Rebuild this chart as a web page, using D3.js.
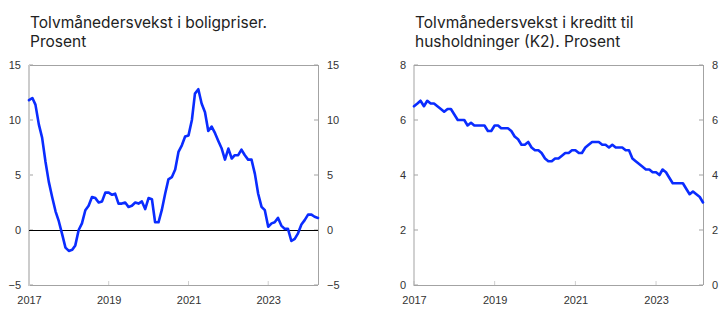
<!DOCTYPE html>
<html>
<head>
<meta charset="utf-8">
<script src="https://cdn.jsdelivr.net/npm/d3@7"></script>
<style>
  html, body { margin: 0; padding: 0; background: #fff; }
  svg { display: block; }
  .tick-label { font-family: "Liberation Sans", Arial, sans-serif; font-size: 11px; fill: #333; }
  .title { font-family: Inter, "Open Sans", sans-serif; font-size: 15.5px; fill: #222; }
</style>
</head>
<body>
<svg id="chart" width="722" height="325"></svg>
<script>
// ---------- DATA ----------
const startMonth = "2017-01";
// Twelve-month growth in house prices, monthly Jan 2017 – Apr 2024 (per cent)
const housePrices = [
  11.8, 12.0, 11.4, 9.6, 8.4, 6.2, 4.4, 3.0, 1.7, 0.8,
  -0.4, -1.6, -1.9, -1.8, -1.4, 0.0, 0.6, 1.8, 2.2, 3.0,
  2.9, 2.5, 2.6, 3.4, 3.4, 3.2, 3.3, 2.4, 2.4, 2.5,
  2.1, 2.2, 2.5, 2.4, 2.6, 1.9, 2.9, 2.8, 0.7, 0.7,
  1.8, 3.3, 4.6, 4.8, 5.5, 7.1, 7.7, 8.5, 8.6, 10.0,
  12.4, 12.8, 11.5, 10.7, 9.0, 9.4, 8.8, 8.1, 7.4, 6.4,
  7.4, 6.5, 6.8, 6.8, 7.3, 6.8, 6.4, 6.4, 5.1, 3.3,
  2.1, 1.8, 0.3, 0.6, 0.7, 1.1, 0.4, 0.1, 0.1, -1.0,
  -0.8, -0.3, 0.5, 0.9, 1.4, 1.4, 1.2, 1.1
];
// Twelve-month growth in household credit (K2), monthly Jan 2017 – Mar 2024 (per cent)
const householdCredit = [
  6.5, 6.6, 6.7, 6.5, 6.7, 6.6, 6.6, 6.5, 6.4, 6.3,
  6.4, 6.4, 6.2, 6.0, 6.0, 6.0, 5.8, 5.9, 5.8, 5.8,
  5.8, 5.8, 5.6, 5.6, 5.8, 5.8, 5.7, 5.7, 5.7, 5.6,
  5.4, 5.3, 5.1, 5.1, 5.2, 5.0, 4.9, 4.9, 4.8, 4.6,
  4.5, 4.5, 4.6, 4.6, 4.7, 4.8, 4.8, 4.9, 4.9, 4.8,
  4.8, 5.0, 5.1, 5.2, 5.2, 5.2, 5.1, 5.1, 5.0, 5.1,
  5.0, 5.0, 5.0, 4.9, 4.9, 4.6, 4.5, 4.4, 4.3, 4.2,
  4.2, 4.1, 4.1, 4.0, 4.2, 4.1, 3.9, 3.7, 3.7, 3.7,
  3.7, 3.5, 3.3, 3.4, 3.3, 3.2, 3.0
];
const leftTitle = ["Tolvmånedersvekst i boligpriser.", "Prosent"];
const rightTitle = ["Tolvmånedersvekst i kreditt til", "husholdninger (K2). Prosent"];
const leftYTicks = [-5, 0, 5, 10, 15];
const rightYTicks = [0, 2, 4, 6, 8];
const xTickYears = ["2017", "2019", "2021", "2023"];

// ---------- DRAW ----------
const parseMonth = d3.timeParse("%Y-%m");
const parseYear = d3.timeParse("%Y");
const svg = d3.select("#chart");
const lineColor = "#0a2cff";
const frameColor = "#a3a3a3";

function toSeries(values) {
  const s = parseMonth(startMonth);
  return values.map((v, i) => ({ date: d3.timeMonth.offset(s, i), value: v }));
}

function panel({ x0, x1, y0, y1, values, yDomain, yTicks, title, zeroLine, leftAxisColor, leftAxisWidth }) {
  const data = toSeries(values);
  const g = svg.append("g");
  const x = d3.scaleTime()
    .domain([data[0].date, data[data.length - 1].date])
    .range([x0, x1]);
  const y = d3.scaleLinear().domain(yDomain).range([y1, y0]);

  // title (one text element per line)
  title.forEach((line, i) => {
    g.append("text").attr("class", "title")
      .attr("x", x0 + 1).attr("y", 27.5 + i * 19)
      .text(line);
  });

  // left axis with labels
  const yl = d3.axisLeft(y).tickValues(yTicks).tickSize(0).tickPadding(8)
    .tickFormat(d => d < 0 ? "\u2212" + Math.abs(d) : d);
  const gl = g.append("g").attr("transform", `translate(${x0},0)`).call(yl);
  gl.select(".domain").remove();
  gl.selectAll("text").attr("class", "tick-label").attr("font-family", null).attr("font-size", null).attr("fill", null);

  const yr = d3.axisRight(y).tickValues(yTicks).tickSize(0).tickPadding(9)
    .tickFormat(d => d < 0 ? "\u2212" + Math.abs(d) : d);
  const gr = g.append("g").attr("transform", `translate(${x1},0)`).call(yr);
  gr.select(".domain").remove();
  gr.selectAll("text").attr("class", "tick-label").attr("font-family", null).attr("font-size", null).attr("fill", null);

  // inward y ticks
  yTicks.forEach(v => {
    g.append("line").attr("x1", x0).attr("x2", x0 + 4).attr("y1", y(v)).attr("y2", y(v))
      .attr("stroke", frameColor).attr("stroke-width", 1);
    g.append("line").attr("x1", x1 - 4).attr("x2", x1).attr("y1", y(v)).attr("y2", y(v))
      .attr("stroke", frameColor).attr("stroke-width", 1);
  });

  // bottom axis
  const xt = xTickYears.map(parseYear);
  const xa = d3.axisBottom(x).tickValues(xt).tickSize(0).tickPadding(11).tickFormat(d3.timeFormat("%Y"));
  const gx = g.append("g").attr("transform", `translate(0,${y1})`).call(xa);
  gx.select(".domain").remove();
  gx.selectAll("text").attr("class", "tick-label").attr("font-family", null).attr("font-size", null).attr("fill", null);
  xt.forEach(d => {
    g.append("line").attr("x1", x(d)).attr("x2", x(d)).attr("y1", y1 - 4).attr("y2", y1)
      .attr("stroke", "#cfcfcf").attr("stroke-width", 1);
  });

  // frame
  g.append("line").attr("x1", x0).attr("x2", x1).attr("y1", y0 + 0.5).attr("y2", y0 + 0.5).attr("stroke", frameColor);
  g.append("line").attr("x1", x1 + 0.5).attr("x2", x1 + 0.5).attr("y1", y0).attr("y2", y1).attr("stroke", frameColor);
  g.append("line").attr("x1", x0).attr("x2", x1).attr("y1", y1 + 0.5).attr("y2", y1 + 0.5).attr("stroke", frameColor);
  g.append("line").attr("x1", x0).attr("x2", x0).attr("y1", y0).attr("y2", y1 + 1)
    .attr("stroke", leftAxisColor).attr("stroke-width", leftAxisWidth);

  if (zeroLine) {
    g.append("line").attr("x1", x0).attr("x2", x1).attr("y1", y(0) + 0.5).attr("y2", y(0) + 0.5)
      .attr("stroke", "#000").attr("stroke-width", 1.2);
  }

  const line = d3.line().x(d => x(d.date)).y(d => y(d.value));
  g.append("path").datum(data).attr("d", line)
    .attr("fill", "none").attr("stroke", lineColor).attr("stroke-width", 2.6)
    .attr("stroke-linejoin", "round").attr("stroke-linecap", "round");
}

panel({ x0: 29, x1: 318, y0: 65, y1: 285, values: housePrices, yDomain: [-5, 15],
  yTicks: leftYTicks, title: leftTitle, zeroLine: true, leftAxisColor: "#cccccc", leftAxisWidth: 2 });
panel({ x0: 414, x1: 703, y0: 65, y1: 285, values: householdCredit, yDomain: [0, 8],
  yTicks: rightYTicks, title: rightTitle, zeroLine: false, leftAxisColor: frameColor, leftAxisWidth: 1 });
</script>
</body>
</html>
